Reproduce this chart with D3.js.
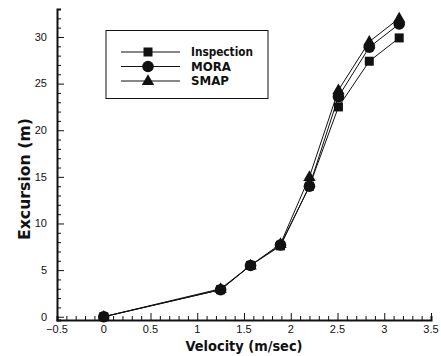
<!DOCTYPE html>
<html>
<head>
<meta charset="utf-8">
<script src="https://cdn.jsdelivr.net/npm/d3@7"></script>
<style>
  body { margin: 0; background: #fff; }
  svg { display: block; }
</style>
</head>
<body>
<svg id="chart" width="441" height="356"></svg>
<script>
// velocity values (m/sec)
const velocity = [0, 1.25, 1.57, 1.89, 2.2, 2.51, 2.84, 3.16];

// excursion (m) per method
const inspection = [0, 2.9, 5.5, 7.6, 14.0, 22.5, 27.4, 29.9];
const mora = [0, 2.9, 5.5, 7.7, 14.0, 23.6, 28.9, 31.4];
const smap = [0, 3.0, 5.5, 7.8, 15.0, 24.3, 29.5, 32.0];

const seriesNames = ['Inspection', 'MORA', 'SMAP'];
const seriesMarkers = ['square', 'circle', 'triangle'];
const seriesValues = [inspection, mora, smap];

const xTicks = [-0.5, 0, 0.5, 1, 1.5, 2, 2.5, 3, 3.5];
const yTicks = [0, 5, 10, 15, 20, 25, 30];

const svg = d3.select('#chart');

const x = d3.scaleLinear().domain([-0.5, 3.5]).range([57, 431]);
const y = d3.scaleLinear().domain([-0.35, 33]).range([320, 9]);

const INK = '#111';
const TITLE_FONT = 'DejaVu Sans, Liberation Sans, sans-serif';
const TICK_FONT = 'Liberation Sans, Arial, sans-serif';

// Axes — ticks point inward, minor ticks between labels
const xAxis = svg.append('g').attr('transform', `translate(0,${y.range()[0]})`);
xAxis.call(d3.axisBottom(x).tickValues(d3.range(-5, 36).map(d => d / 10)).tickSize(-4).tickFormat(''));
xAxis.call(g => g.selectAll('.tick line').attr('stroke', INK).attr('stroke-width', 1));
xAxis.selectAll('.tick').filter(d => xTicks.some(t => Math.abs(t - d) < 1e-6))
  .select('line').attr('y2', -7);
xAxis.select('.domain').attr('stroke', INK).attr('stroke-width', 2);
xAxis.selectAll('.xlab')
  .data(xTicks)
  .join('text')
  .attr('x', d => x(d))
  .attr('y', 13)
  .attr('text-anchor', 'middle')
  .attr('font-family', TICK_FONT)
  .attr('font-size', 11)
  .attr('fill', INK)
  .text(d => d3.format('')(d));

const yAxis = svg.append('g').attr('transform', `translate(${x.range()[0]},0)`);
yAxis.call(d3.axisLeft(y).tickValues(d3.range(0, 34)).tickSize(-4).tickFormat(''));
yAxis.call(g => g.selectAll('.tick line').attr('stroke', INK).attr('stroke-width', 1));
yAxis.selectAll('.tick').filter(d => d % 5 === 0)
  .select('line').attr('x2', 7);
yAxis.select('.domain').attr('stroke', INK).attr('stroke-width', 2);
yAxis.selectAll('.ylab')
  .data(yTicks)
  .join('text')
  .attr('x', -10)
  .attr('y', d => y(d))
  .attr('dy', '0.35em')
  .attr('text-anchor', 'end')
  .attr('font-family', TICK_FONT)
  .attr('font-size', 11)
  .attr('fill', INK)
  .text(d => d);

// Axis titles
svg.append('text')
  .attr('x', 244)
  .attr('y', 351)
  .attr('text-anchor', 'middle')
  .attr('font-family', TITLE_FONT)
  .attr('font-weight', 'bold')
  .attr('font-size', 14)
  .attr('textLength', 117)
  .attr('lengthAdjust', 'spacingAndGlyphs')
  .attr('fill', INK)
  .text('Velocity (m/sec)');

svg.append('text')
  .attr('transform', 'translate(30,179) rotate(-90)')
  .attr('text-anchor', 'middle')
  .attr('font-family', TITLE_FONT)
  .attr('font-weight', 'bold')
  .attr('font-size', 15)
  .attr('textLength', 122)
  .attr('lengthAdjust', 'spacingAndGlyphs')
  .attr('fill', INK)
  .text('Excursion (m)');

function drawMarker(g, kind, cx, cy) {
  if (kind === 'square') {
    g.append('rect').attr('x', cx - 4.5).attr('y', cy - 4.5)
      .attr('width', 9).attr('height', 9).attr('fill', INK);
  } else if (kind === 'circle') {
    g.append('circle').attr('cx', cx).attr('cy', cy).attr('r', 5.8).attr('fill', INK);
  } else {
    g.append('path')
      .attr('d', d3.symbol(d3.symbolTriangle, 66)())
      .attr('transform', `translate(${cx},${cy + 0.5})`)
      .attr('fill', INK);
  }
}

// Series lines and markers — MORA drawn last so its circles sit on top
const line = d3.line().x(d => x(d[0])).y(d => y(d[1]));
[2, 0, 1].forEach(i => {
  const vals = seriesValues[i];
  const pts = velocity.map((v, j) => [v, vals[j]]);
  const g = svg.append('g');
  g.append('path')
    .attr('d', line(pts))
    .attr('fill', 'none')
    .attr('stroke', INK)
    .attr('stroke-width', 1);
  pts.forEach(p => drawMarker(g, seriesMarkers[i], x(p[0]), y(p[1])));
});

// Legend
const legendWidths = [62, 40, 38];
const legend = svg.append('g');
legend.append('rect')
  .attr('x', 106).attr('y', 30.5)
  .attr('width', 162).attr('height', 68)
  .attr('fill', '#fff')
  .attr('stroke', INK)
  .attr('stroke-width', 1);
seriesNames.forEach((name, i) => {
  const ly = 52 + i * 14.5;
  legend.append('line')
    .attr('x1', 121).attr('x2', 180)
    .attr('y1', ly).attr('y2', ly)
    .attr('stroke', INK).attr('stroke-width', 1);
  drawMarker(legend, seriesMarkers[i], 148, ly);
  legend.append('text')
    .attr('x', 191)
    .attr('y', ly)
    .attr('dy', '0.36em')
    .attr('font-family', TITLE_FONT)
    .attr('font-weight', 'bold')
    .attr('font-size', 12)
    .attr('textLength', legendWidths[i])
    .attr('lengthAdjust', 'spacingAndGlyphs')
    .attr('fill', INK)
    .text(name);
});
</script>
</body>
</html>
